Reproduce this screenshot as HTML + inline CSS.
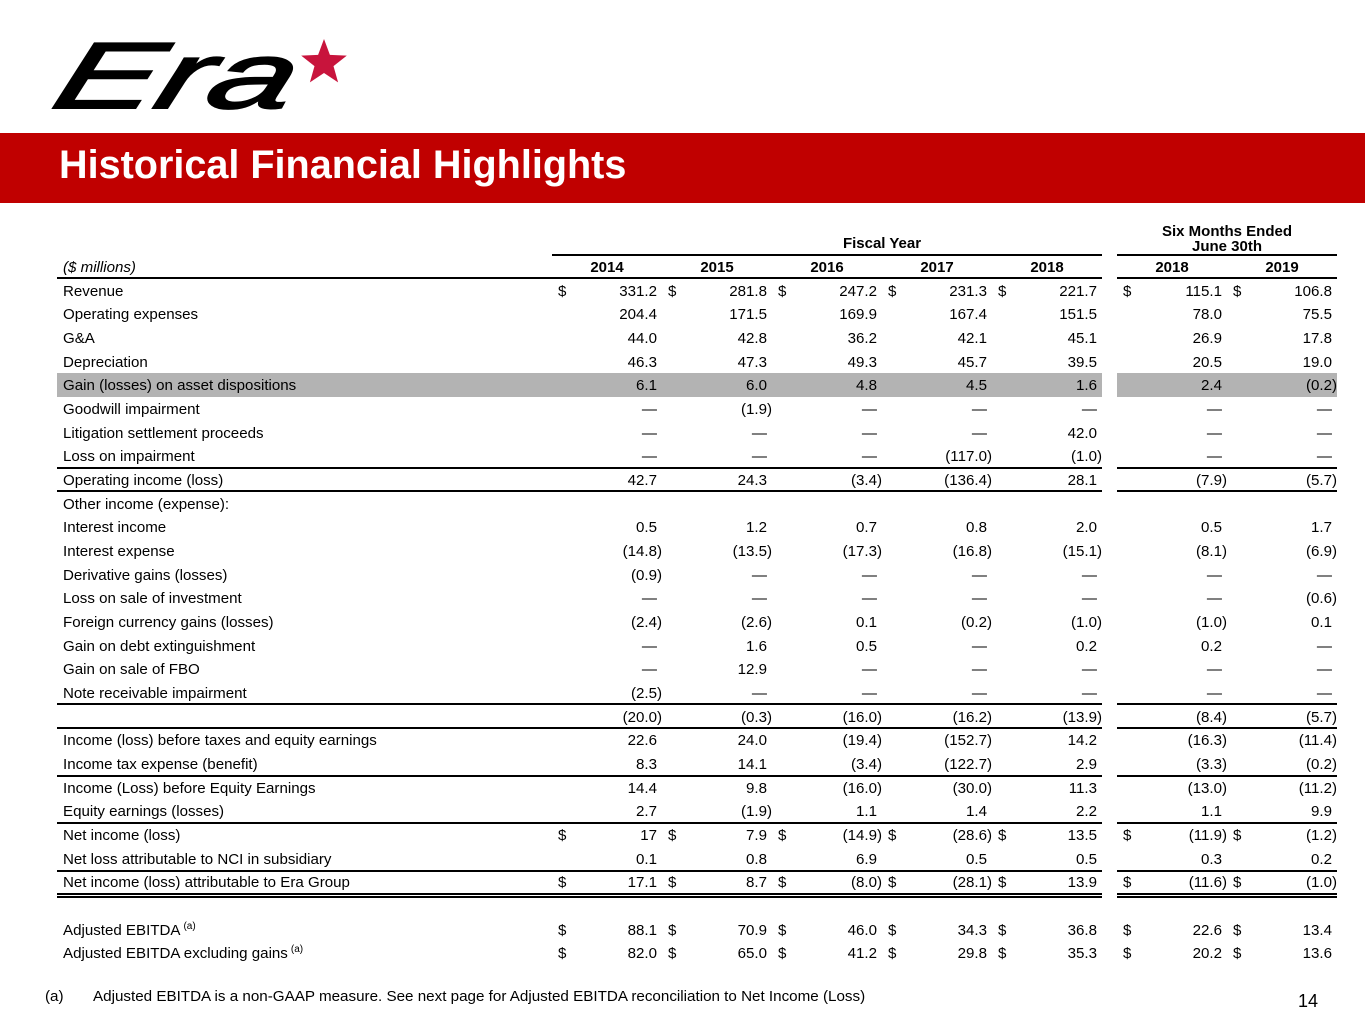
<!DOCTYPE html>
<html>
<head>
<meta charset="utf-8">
<style>
  html,body{margin:0;padding:0;}
  body{width:1365px;height:1024px;position:relative;overflow:hidden;background:#fff;font-family:"Liberation Sans",Arial,sans-serif;color:#000;}
  .band{position:absolute;left:0;top:133px;width:1365px;height:70px;background:#c00000;}
  .title{position:absolute;left:59px;top:145px;font-size:39.6px;line-height:40px;font-weight:bold;color:#fff;white-space:nowrap;}
  .ln{position:absolute;height:2px;background:#000;}
  .dbl{position:absolute;height:0;border-top:5px double #000;}
  .shade{position:absolute;top:372.9px;height:23.7px;background:#b3b3b3;}
  .hd{position:absolute;font-size:15px;line-height:23.68px;font-weight:bold;text-align:center;white-space:nowrap;}
  .t{position:absolute;left:0;top:279.6px;width:1365px;}
  .r{position:relative;height:23.68px;line-height:23.68px;font-size:15.1px;white-space:nowrap;}
  .l{position:absolute;left:63px;top:0;}
  .v{position:absolute;top:0;width:110px;text-align:right;padding-right:5px;box-sizing:border-box;}
  .v.n{padding-right:0;}
  .d{position:absolute;left:6px;top:0;}
  .a1{left:552px}.a2{left:662px}.a3{left:772px}.a4{left:882px}.a5{left:992px}.a6{left:1117px}.a7{left:1227px}
  sup{font-size:10px;vertical-align:0;position:relative;top:-6px;margin-left:3px;}
  .foot{position:absolute;top:987px;font-size:15.2px;line-height:20px;white-space:nowrap;}
  .pg{position:absolute;left:1298px;top:990.5px;font-size:18px;line-height:20px;}
</style>
</head>
<body>

<svg style="position:absolute;left:0;top:0" width="400" height="130" xmlns="http://www.w3.org/2000/svg">
  <text x="84" y="108" font-family="Liberation Sans, sans-serif" font-style="italic" font-weight="normal" font-size="94" textLength="238" lengthAdjust="spacingAndGlyphs" transform="skewX(-18)" fill="#000" stroke="#000" stroke-width="2">Era</text>
  <polygon fill="#c8143c" points="324,39 329.9,54.9 346.8,55.6 333.5,66.1 338.1,82.4 324,73 309.9,82.4 314.5,66.1 301.2,55.6 318.1,54.9"/>
</svg>

<div class="band"></div>
<div class="title">Historical Financial Highlights</div>

<!-- header -->
<div class="hd" style="left:782px;width:200px;top:232px;">Fiscal Year</div>
<div class="hd" style="left:1117px;width:220px;top:219.8px;">Six Months Ended</div>
<div class="hd" style="left:1117px;width:220px;top:234.8px;">June 30th</div>
<div class="ln" style="left:552px;width:550px;top:254px;"></div>
<div class="ln" style="left:1117px;width:220px;top:254px;"></div>

<div style="position:absolute;left:63px;top:256px;font-size:15.1px;line-height:23.68px;font-style:italic;">($ millions)</div>
<div class="hd" style="left:552px;width:110px;top:256px;">2014</div>
<div class="hd" style="left:662px;width:110px;top:256px;">2015</div>
<div class="hd" style="left:772px;width:110px;top:256px;">2016</div>
<div class="hd" style="left:882px;width:110px;top:256px;">2017</div>
<div class="hd" style="left:992px;width:110px;top:256px;">2018</div>
<div class="hd" style="left:1117px;width:110px;top:256px;">2018</div>
<div class="hd" style="left:1227px;width:110px;top:256px;">2019</div>

<div class="ln" style="left:57px;width:1045px;top:277px;"></div>
<div class="ln" style="left:1117px;width:220px;top:277px;"></div>

<!-- shaded row -->
<div class="shade" style="left:57px;width:1045px;"></div>
<div class="shade" style="left:1117px;width:220px;"></div>

<!-- horizontal rules -->
<div class="ln" style="left:57px;width:1045px;top:466.6px;"></div>
<div class="ln" style="left:1117px;width:220px;top:466.6px;"></div>
<div class="ln" style="left:57px;width:1045px;top:490.3px;"></div>
<div class="ln" style="left:1117px;width:220px;top:490.3px;"></div>
<div class="ln" style="left:57px;width:1045px;top:703.4px;"></div>
<div class="ln" style="left:1117px;width:220px;top:703.4px;"></div>
<div class="ln" style="left:57px;width:1045px;top:727.1px;"></div>
<div class="ln" style="left:1117px;width:220px;top:727.1px;"></div>
<div class="ln" style="left:57px;width:1045px;top:774.9px;"></div>
<div class="ln" style="left:1117px;width:220px;top:774.9px;"></div>
<div class="ln" style="left:57px;width:1045px;top:822px;"></div>
<div class="ln" style="left:1117px;width:220px;top:822px;"></div>
<div class="ln" style="left:57px;width:1045px;top:869.5px;"></div>
<div class="ln" style="left:1117px;width:220px;top:869.5px;"></div>
<div class="dbl" style="left:57px;width:1045px;top:892.5px;"></div>
<div class="dbl" style="left:1117px;width:220px;top:892.5px;"></div>

<div class="t">
  <div class="r"><span class="l">Revenue</span>
    <div class="v a1"><span class="d">$</span>331.2</div><div class="v a2"><span class="d">$</span>281.8</div><div class="v a3"><span class="d">$</span>247.2</div><div class="v a4"><span class="d">$</span>231.3</div><div class="v a5"><span class="d">$</span>221.7</div><div class="v a6"><span class="d">$</span>115.1</div><div class="v a7"><span class="d">$</span>106.8</div></div>
  <div class="r"><span class="l">Operating expenses</span>
    <div class="v a1">204.4</div><div class="v a2">171.5</div><div class="v a3">169.9</div><div class="v a4">167.4</div><div class="v a5">151.5</div><div class="v a6">78.0</div><div class="v a7">75.5</div></div>
  <div class="r"><span class="l">G&amp;A</span>
    <div class="v a1">44.0</div><div class="v a2">42.8</div><div class="v a3">36.2</div><div class="v a4">42.1</div><div class="v a5">45.1</div><div class="v a6">26.9</div><div class="v a7">17.8</div></div>
  <div class="r"><span class="l">Depreciation</span>
    <div class="v a1">46.3</div><div class="v a2">47.3</div><div class="v a3">49.3</div><div class="v a4">45.7</div><div class="v a5">39.5</div><div class="v a6">20.5</div><div class="v a7">19.0</div></div>
  <div class="r"><span class="l">Gain (losses) on asset dispositions</span>
    <div class="v a1">6.1</div><div class="v a2">6.0</div><div class="v a3">4.8</div><div class="v a4">4.5</div><div class="v a5">1.6</div><div class="v a6">2.4</div><div class="v a7 n">(0.2)</div></div>
  <div class="r"><span class="l">Goodwill impairment</span>
    <div class="v a1">—</div><div class="v a2 n">(1.9)</div><div class="v a3">—</div><div class="v a4">—</div><div class="v a5">—</div><div class="v a6">—</div><div class="v a7">—</div></div>
  <div class="r"><span class="l">Litigation settlement proceeds</span>
    <div class="v a1">—</div><div class="v a2">—</div><div class="v a3">—</div><div class="v a4">—</div><div class="v a5">42.0</div><div class="v a6">—</div><div class="v a7">—</div></div>
  <div class="r"><span class="l">Loss on impairment</span>
    <div class="v a1">—</div><div class="v a2">—</div><div class="v a3">—</div><div class="v a4 n">(117.0)</div><div class="v a5 n">(1.0)</div><div class="v a6">—</div><div class="v a7">—</div></div>
  <div class="r"><span class="l">Operating income (loss)</span>
    <div class="v a1">42.7</div><div class="v a2">24.3</div><div class="v a3 n">(3.4)</div><div class="v a4 n">(136.4)</div><div class="v a5">28.1</div><div class="v a6 n">(7.9)</div><div class="v a7 n">(5.7)</div></div>
  <div class="r"><span class="l">Other income (expense):</span></div>
  <div class="r"><span class="l">Interest income</span>
    <div class="v a1">0.5</div><div class="v a2">1.2</div><div class="v a3">0.7</div><div class="v a4">0.8</div><div class="v a5">2.0</div><div class="v a6">0.5</div><div class="v a7">1.7</div></div>
  <div class="r"><span class="l">Interest expense</span>
    <div class="v a1 n">(14.8)</div><div class="v a2 n">(13.5)</div><div class="v a3 n">(17.3)</div><div class="v a4 n">(16.8)</div><div class="v a5 n">(15.1)</div><div class="v a6 n">(8.1)</div><div class="v a7 n">(6.9)</div></div>
  <div class="r"><span class="l">Derivative gains (losses)</span>
    <div class="v a1 n">(0.9)</div><div class="v a2">—</div><div class="v a3">—</div><div class="v a4">—</div><div class="v a5">—</div><div class="v a6">—</div><div class="v a7">—</div></div>
  <div class="r"><span class="l">Loss on sale of investment</span>
    <div class="v a1">—</div><div class="v a2">—</div><div class="v a3">—</div><div class="v a4">—</div><div class="v a5">—</div><div class="v a6">—</div><div class="v a7 n">(0.6)</div></div>
  <div class="r"><span class="l">Foreign currency gains (losses)</span>
    <div class="v a1 n">(2.4)</div><div class="v a2 n">(2.6)</div><div class="v a3">0.1</div><div class="v a4 n">(0.2)</div><div class="v a5 n">(1.0)</div><div class="v a6 n">(1.0)</div><div class="v a7">0.1</div></div>
  <div class="r"><span class="l">Gain on debt extinguishment</span>
    <div class="v a1">—</div><div class="v a2">1.6</div><div class="v a3">0.5</div><div class="v a4">—</div><div class="v a5">0.2</div><div class="v a6">0.2</div><div class="v a7">—</div></div>
  <div class="r"><span class="l">Gain on sale of FBO</span>
    <div class="v a1">—</div><div class="v a2">12.9</div><div class="v a3">—</div><div class="v a4">—</div><div class="v a5">—</div><div class="v a6">—</div><div class="v a7">—</div></div>
  <div class="r"><span class="l">Note receivable impairment</span>
    <div class="v a1 n">(2.5)</div><div class="v a2">—</div><div class="v a3">—</div><div class="v a4">—</div><div class="v a5">—</div><div class="v a6">—</div><div class="v a7">—</div></div>
  <div class="r">
    <div class="v a1 n">(20.0)</div><div class="v a2 n">(0.3)</div><div class="v a3 n">(16.0)</div><div class="v a4 n">(16.2)</div><div class="v a5 n">(13.9)</div><div class="v a6 n">(8.4)</div><div class="v a7 n">(5.7)</div></div>
  <div class="r"><span class="l">Income (loss) before taxes and equity earnings</span>
    <div class="v a1">22.6</div><div class="v a2">24.0</div><div class="v a3 n">(19.4)</div><div class="v a4 n">(152.7)</div><div class="v a5">14.2</div><div class="v a6 n">(16.3)</div><div class="v a7 n">(11.4)</div></div>
  <div class="r"><span class="l">Income tax expense (benefit)</span>
    <div class="v a1">8.3</div><div class="v a2">14.1</div><div class="v a3 n">(3.4)</div><div class="v a4 n">(122.7)</div><div class="v a5">2.9</div><div class="v a6 n">(3.3)</div><div class="v a7 n">(0.2)</div></div>
  <div class="r"><span class="l">Income (Loss) before Equity Earnings</span>
    <div class="v a1">14.4</div><div class="v a2">9.8</div><div class="v a3 n">(16.0)</div><div class="v a4 n">(30.0)</div><div class="v a5">11.3</div><div class="v a6 n">(13.0)</div><div class="v a7 n">(11.2)</div></div>
  <div class="r"><span class="l">Equity earnings (losses)</span>
    <div class="v a1">2.7</div><div class="v a2 n">(1.9)</div><div class="v a3">1.1</div><div class="v a4">1.4</div><div class="v a5">2.2</div><div class="v a6">1.1</div><div class="v a7">9.9</div></div>
  <div class="r"><span class="l">Net income (loss)</span>
    <div class="v a1"><span class="d">$</span>17</div><div class="v a2"><span class="d">$</span>7.9</div><div class="v a3 n"><span class="d">$</span>(14.9)</div><div class="v a4 n"><span class="d">$</span>(28.6)</div><div class="v a5"><span class="d">$</span>13.5</div><div class="v a6 n"><span class="d">$</span>(11.9)</div><div class="v a7 n"><span class="d">$</span>(1.2)</div></div>
  <div class="r"><span class="l">Net loss attributable to NCI in subsidiary</span>
    <div class="v a1">0.1</div><div class="v a2">0.8</div><div class="v a3">6.9</div><div class="v a4">0.5</div><div class="v a5">0.5</div><div class="v a6">0.3</div><div class="v a7">0.2</div></div>
  <div class="r"><span class="l">Net income (loss) attributable to Era Group</span>
    <div class="v a1"><span class="d">$</span>17.1</div><div class="v a2"><span class="d">$</span>8.7</div><div class="v a3 n"><span class="d">$</span>(8.0)</div><div class="v a4 n"><span class="d">$</span>(28.1)</div><div class="v a5"><span class="d">$</span>13.9</div><div class="v a6 n"><span class="d">$</span>(11.6)</div><div class="v a7 n"><span class="d">$</span>(1.0)</div></div>
  <div class="r"></div>
  <div class="r"><span class="l">Adjusted EBITDA<sup>(a)</sup></span>
    <div class="v a1"><span class="d">$</span>88.1</div><div class="v a2"><span class="d">$</span>70.9</div><div class="v a3"><span class="d">$</span>46.0</div><div class="v a4"><span class="d">$</span>34.3</div><div class="v a5"><span class="d">$</span>36.8</div><div class="v a6"><span class="d">$</span>22.6</div><div class="v a7"><span class="d">$</span>13.4</div></div>
  <div class="r"><span class="l">Adjusted EBITDA excluding gains<sup>(a)</sup></span>
    <div class="v a1"><span class="d">$</span>82.0</div><div class="v a2"><span class="d">$</span>65.0</div><div class="v a3"><span class="d">$</span>41.2</div><div class="v a4"><span class="d">$</span>29.8</div><div class="v a5"><span class="d">$</span>35.3</div><div class="v a6"><span class="d">$</span>20.2</div><div class="v a7"><span class="d">$</span>13.6</div></div>
</div>

<div class="foot" style="left:45px;">(a)</div>
<div class="foot" style="left:93px;">Adjusted EBITDA is a non-GAAP measure. See next page for Adjusted EBITDA reconciliation to Net Income (Loss)</div>
<div class="pg">14</div>

</body>
</html>
